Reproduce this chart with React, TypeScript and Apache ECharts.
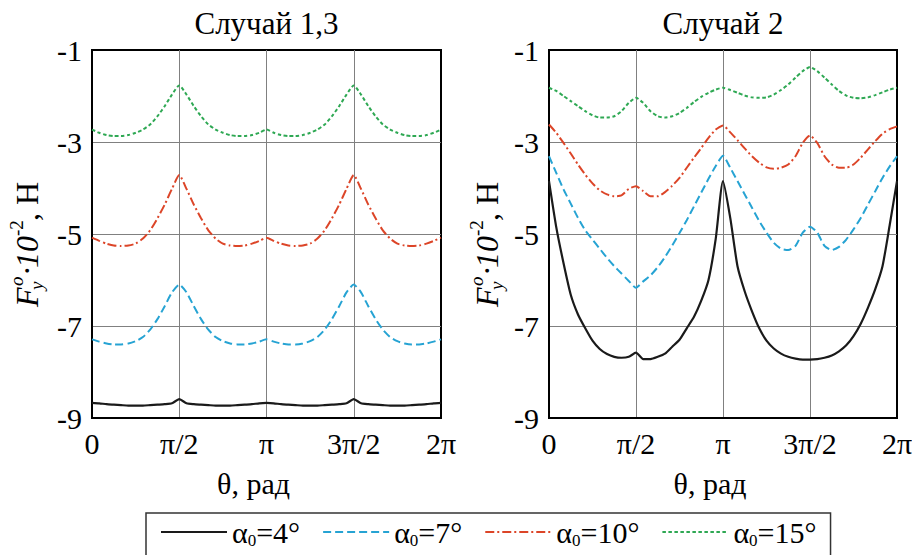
import React, { useEffect, useRef } from "react";
import * as echarts from "echarts";

// θ in degrees (0 … 2π)
const angles = [0, 7.5, 15, 22.5, 30, 37.5, 45, 52.5, 60, 67.5, 75, 82.5, 90, 97.5, 105, 112.5, 120, 127.5, 135, 142.5, 150, 157.5, 165, 172.5, 180, 187.5, 195, 202.5, 210, 217.5, 225, 232.5, 240, 247.5, 255, 262.5, 270, 277.5, 285, 292.5, 300, 307.5, 315, 322.5, 330, 337.5, 345, 352.5, 360];

const xTickLabels: Record<number, string> = { 0: "0", 90: "π/2", 180: "π", 270: "3π/2", 360: "2π" };
const panelTitles = ["Случай 1,3", "Случай 2"];
const alphaNames = ["4", "7", "10", "15"];

// Case 1,3
const case13_a4 = [-8.67, -8.68, -8.70, -8.71, -8.72, -8.73, -8.73, -8.73, -8.72, -8.71, -8.70, -8.68, -8.59, -8.68, -8.70, -8.71, -8.72, -8.73, -8.73, -8.73, -8.72, -8.71, -8.70, -8.68, -8.67, -8.68, -8.70, -8.71, -8.72, -8.73, -8.73, -8.73, -8.72, -8.71, -8.70, -8.68, -8.59, -8.68, -8.70, -8.71, -8.72, -8.73, -8.73, -8.73, -8.72, -8.71, -8.70, -8.68, -8.67];
const case13_a7 = [-7.29, -7.34, -7.38, -7.40, -7.40, -7.38, -7.33, -7.24, -7.08, -6.85, -6.57, -6.27, -6.10, -6.27, -6.57, -6.85, -7.08, -7.24, -7.33, -7.38, -7.40, -7.40, -7.38, -7.34, -7.29, -7.34, -7.38, -7.40, -7.40, -7.38, -7.33, -7.24, -7.08, -6.85, -6.57, -6.27, -6.10, -6.27, -6.57, -6.85, -7.08, -7.24, -7.33, -7.38, -7.40, -7.40, -7.38, -7.34, -7.29];
const case13_a10 = [-5.08, -5.15, -5.21, -5.25, -5.26, -5.25, -5.21, -5.10, -4.92, -4.66, -4.36, -4.02, -3.72, -4.02, -4.36, -4.66, -4.92, -5.10, -5.21, -5.25, -5.26, -5.25, -5.21, -5.15, -5.08, -5.15, -5.21, -5.25, -5.26, -5.25, -5.21, -5.10, -4.92, -4.66, -4.36, -4.02, -3.72, -4.02, -4.36, -4.66, -4.92, -5.10, -5.21, -5.25, -5.26, -5.25, -5.21, -5.15, -5.08];
const case13_a15 = [-2.73, -2.80, -2.85, -2.87, -2.87, -2.85, -2.80, -2.73, -2.62, -2.44, -2.22, -1.97, -1.77, -1.97, -2.22, -2.44, -2.62, -2.73, -2.80, -2.85, -2.87, -2.87, -2.85, -2.80, -2.73, -2.80, -2.85, -2.87, -2.87, -2.85, -2.80, -2.73, -2.62, -2.44, -2.22, -1.97, -1.77, -1.97, -2.22, -2.44, -2.62, -2.73, -2.80, -2.85, -2.87, -2.87, -2.85, -2.80, -2.73];

// Case 2
const case2_a4 = [-3.85, -4.85, -5.63, -6.32, -6.75, -7.05, -7.32, -7.50, -7.61, -7.67, -7.69, -7.67, -7.58, -7.72, -7.72, -7.67, -7.60, -7.45, -7.30, -7.05, -6.80, -6.45, -6.00, -5.10, -3.85, -4.65, -5.70, -6.25, -6.68, -7.05, -7.32, -7.49, -7.60, -7.67, -7.71, -7.73, -7.73, -7.72, -7.69, -7.64, -7.55, -7.42, -7.22, -6.95, -6.60, -6.20, -5.70, -4.80, -3.85];
const case2_a7 = [-3.31, -3.67, -4.03, -4.34, -4.65, -4.92, -5.12, -5.32, -5.52, -5.70, -5.86, -6.02, -6.17, -6.03, -5.90, -5.72, -5.50, -5.25, -4.98, -4.70, -4.40, -4.10, -3.80, -3.52, -3.30, -3.56, -3.85, -4.14, -4.43, -4.72, -4.97, -5.19, -5.32, -5.35, -5.26, -4.97, -4.84, -4.97, -5.26, -5.35, -5.28, -5.12, -4.90, -4.65, -4.36, -4.07, -3.78, -3.53, -3.31];
const case2_a10 = [-2.62, -2.80, -3.02, -3.25, -3.49, -3.71, -3.90, -4.05, -4.14, -4.18, -4.16, -4.02, -3.96, -4.07, -4.18, -4.18, -4.09, -3.95, -3.78, -3.56, -3.34, -3.13, -2.91, -2.73, -2.64, -2.79, -2.96, -3.14, -3.31, -3.45, -3.55, -3.58, -3.56, -3.49, -3.31, -3.02, -2.86, -3.02, -3.31, -3.49, -3.56, -3.56, -3.49, -3.34, -3.16, -2.98, -2.82, -2.72, -2.66];
const case2_a15 = [-1.82, -1.89, -2.00, -2.11, -2.22, -2.33, -2.42, -2.47, -2.47, -2.44, -2.33, -2.15, -2.04, -2.15, -2.33, -2.44, -2.47, -2.44, -2.37, -2.26, -2.13, -2.02, -1.93, -1.86, -1.82, -1.87, -1.93, -1.99, -2.03, -2.04, -2.03, -1.97, -1.87, -1.75, -1.60, -1.46, -1.37, -1.46, -1.60, -1.75, -1.89, -1.99, -2.04, -2.05, -2.03, -1.98, -1.92, -1.86, -1.82];

const FONT = "Liberation Serif";

const styles = [
  { color: "#1a1a1a", type: "solid" as any, width: 2.2 },
  { color: "#26a3d3", type: [8, 4] as any, width: 2 },
  { color: "#dc4528", type: [9, 3, 2, 3] as any, width: 2 },
  { color: "#2ea853", type: [3.5, 2.5] as any, width: 2 },
];

const panels = [
  [case13_a4, case13_a7, case13_a10, case13_a15],
  [case2_a4, case2_a7, case2_a10, case2_a15],
];

const gridsPos = [
  { left: 92, top: 50, width: 349, height: 368 },
  { left: 549, top: 50, width: 348, height: 368 },
];

function yLabel(cx: number, cy: number) {
  const x0 = -64;
  const t = (text: string, x: number, y: number, size: number, italic: boolean) => ({
    type: "text",
    x: x0 + x,
    y,
    style: {
      text,
      fontFamily: FONT,
      fontSize: size,
      fontStyle: italic ? "italic" : "normal",
      fill: "#000",
      align: "left",
      verticalAlign: "middle",
    },
  });
  return {
    type: "group",
    x: cx,
    y: cy,
    rotation: Math.PI / 2,
    children: [
      t("F", 0, 0, 32, true),
      t("y", 17, 9, 19, true),
      t("o", 21, -11, 19, true),
      t("·", 31, 0, 32, false),
      t("10", 39, 0, 32, true),
      t("-2", 71, -11, 19, false),
      t(", Н", 86, 0, 32, false),
    ],
  };
}

export default function App() {
  const ref = useRef<HTMLDivElement>(null);
  useEffect(() => {
    document.body.style.margin = "0";
    const chart = echarts.init(ref.current!, null, { renderer: "svg" });
    const grid = gridsPos.map((g) => ({
      ...g,
      show: true,
      borderColor: "#000",
      borderWidth: 2,
      backgroundColor: "transparent",
      containLabel: false,
      outerBoundsMode: "none",
    }));
    const xAxis = gridsPos.map((_, i) => ({
      type: "value",
      gridIndex: i,
      min: 0,
      max: 360,
      interval: 90,
      axisLine: { show: true, lineStyle: { color: "#000", width: 2 } },
      axisTick: { show: false },
      axisLabel: {
        formatter: (v: number) => xTickLabels[v] ?? "",
        fontFamily: FONT,
        fontSize: 30,
        color: "#000",
        margin: 10,
        showMinLabel: true,
        showMaxLabel: true,
      },
      splitLine: { show: true, showMinLine: false, showMaxLine: false, lineStyle: { color: "#808080", width: 1 } },
      name: "θ, рад",
      nameLocation: "middle",
      nameGap: 50,
      nameTextStyle: { fontFamily: FONT, fontSize: 30, color: "#000", padding: [0, 26, 0, 0] },
    }));
    const yAxis = gridsPos.map((_, i) => ({
      type: "value",
      gridIndex: i,
      min: -9,
      max: -1,
      interval: 2,
      axisLine: { show: true, lineStyle: { color: "#000", width: 2 } },
      axisTick: { show: false },
      axisLabel: { fontFamily: FONT, fontSize: 30, color: "#000", margin: 10, showMinLabel: true, showMaxLabel: true },
      splitLine: { show: true, showMinLine: false, showMaxLine: false, lineStyle: { color: "#808080", width: 1 } },
    }));
    const series: any[] = [];
    panels.forEach((vals, p) => {
      vals.forEach((arr, k) => {
        series.push({
          type: "line",
          name: alphaNames[k],
          xAxisIndex: p,
          yAxisIndex: p,
          symbol: "none",
          smooth: 0.2,
          color: styles[k].color,
          lineStyle: { color: styles[k].color, type: styles[k].type, width: styles[k].width },
          data: angles.map((a, i) => [a, arr[i]]),
          z: 5 - k,
        });
      });
    });
    const graphic = [
      ...panelTitles.map((txt, i) => ({
        type: "text",
        x: gridsPos[i].left + gridsPos[i].width / 2,
        y: 23,
        style: { text: txt, fontFamily: FONT, fontSize: 31, fill: "#000", align: "center", verticalAlign: "middle" },
      })),
      yLabel(27, 243),
      yLabel(487, 243),
    ];
    chart.setOption({
      animation: false,
      backgroundColor: "#fff",
      textStyle: { fontFamily: FONT },
      grid,
      xAxis,
      yAxis,
      series,
      graphic,
      legend: {
        data: alphaNames,
        left: 146,
        top: 513,
        orient: "horizontal",
        itemWidth: 66,
        itemHeight: 14,
        itemGap: 22,
        padding: [4, 14, 20, 14],
        borderColor: "#333",
        borderWidth: 1.5,
        itemStyle: { color: "transparent", borderColor: "transparent", borderWidth: 0, opacity: 0 },
        formatter: (name: string) => `{a|α}{s|0}{a|=${name}°}`,
        textStyle: {
          color: "#000",
          fontFamily: FONT,
          fontSize: 30,
          rich: {
            a: { fontFamily: FONT, fontSize: 30, color: "#000", lineHeight: 34 },
            s: { fontFamily: FONT, fontSize: 17, color: "#000", lineHeight: 17, verticalAlign: "bottom" },
          },
        },
      },
    });
    const applySerif = () => {
      const root = ref.current;
      if (!root) return;
      root.querySelectorAll("text, tspan").forEach((el: any) => {
        el.style.fontFamily = `"${FONT}", serif`;
      });
    };
    applySerif();
    chart.on("finished", applySerif);
    const timer = setTimeout(applySerif, 0);
    return () => {
      clearTimeout(timer);
      chart.dispose();
    };
  }, []);
  return <div ref={ref} style={{ width: 912, height: 555 }} />;
}
